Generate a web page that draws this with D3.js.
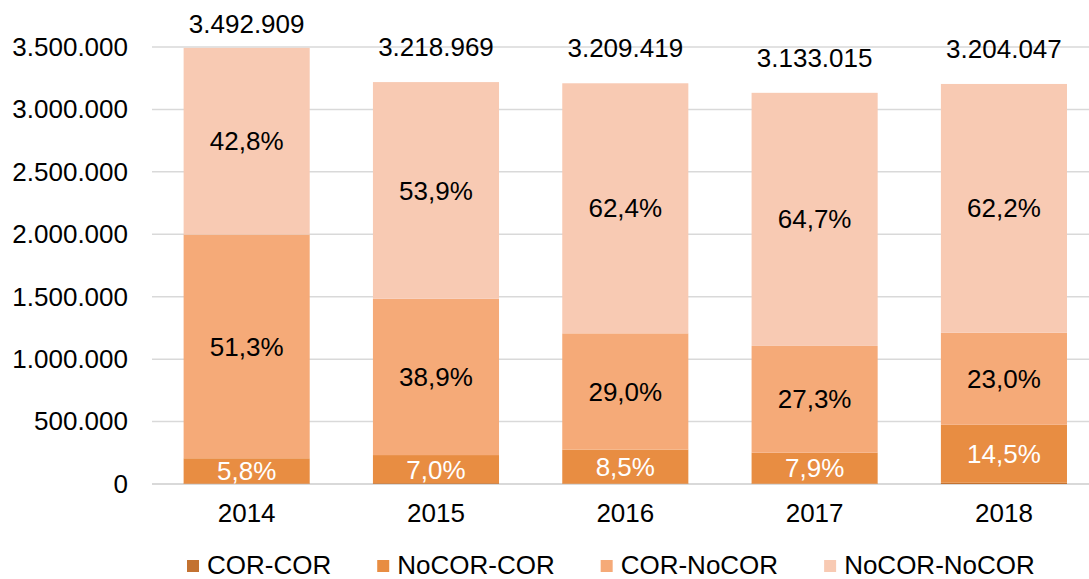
<!DOCTYPE html>
<html>
<head>
<meta charset="utf-8">
<script src="https://cdn.jsdelivr.net/npm/d3@7"></script>
<style>
  body { margin: 0; background: #fff; }
  svg text { font-family: "Liberation Sans", Arial, sans-serif; }
</style>
</head>
<body>
<script>
// data
const years = ["2014", "2015", "2016", "2017", "2018"];
const totals = [3492909, 3218969, 3209419, 3133015, 3204047];
const series = ["COR-COR", "NoCOR-COR", "COR-NoCOR", "NoCOR-NoCOR"];
const pctCorCor = [0.1, 0.2, 0.1, 0.1, 0.3];
const pctNoCorCor = [5.8, 7.0, 8.5, 7.9, 14.5];
const pctCorNoCor = [51.3, 38.9, 29.0, 27.3, 23.0];
const pctNoCorNoCor = [42.8, 53.9, 62.4, 64.7, 62.2];
const yTicks = [0, 500000, 1000000, 1500000, 2000000, 2500000, 3000000, 3500000];
const colors = ["#c37231", "#e88d42", "#f5aa78", "#f8cab3"];

const pcts = [pctCorCor, pctNoCorCor, pctCorNoCor, pctNoCorNoCor];
const rows = years.map((yr, i) => {
  const r = { year: yr, total: totals[i] };
  series.forEach((s, k) => { r[s] = totals[i] * pcts[k][i] / 100; r["p_" + s] = pcts[k][i]; });
  return r;
});

const W = 1089, H = 579;
const plotLeft = 152, plotRight = 1098.6, plotTop = 47, plotBottom = 484;
const fs = 26;

const loc = d3.formatLocale({ decimal: ",", thousands: ".", grouping: [3], currency: ["", "€"] });
const fmtNum = loc.format(",.0f");
const fmtPct = loc.format(".1f");

const svg = d3.select("body").append("svg")
  .attr("width", W).attr("height", H);

const x = d3.scaleBand().domain(years).range([plotLeft, plotRight]).paddingInner(0.334).paddingOuter(0.167);
const y = d3.scaleLinear().domain([0, 3500000]).range([plotBottom, plotTop]);

// gridlines
svg.append("g").selectAll("line")
  .data(yTicks)
  .enter().append("line")
  .attr("x1", plotLeft).attr("x2", W)
  .attr("y1", d => y(d)).attr("y2", d => y(d))
  .attr("stroke", "#d9d9d9")
  .attr("stroke-width", d => d === 0 ? 2 : 1.5);

// y axis labels
const yAxis = svg.append("g")
  .attr("transform", "translate(128,0)")
  .call(d3.axisLeft(y).tickValues(yTicks).tickFormat(fmtNum).tickSize(0).tickPadding(0));
yAxis.select(".domain").remove();
yAxis.selectAll("text")
  .attr("font-size", fs).attr("fill", "#000")
  .style("font-family", "'Liberation Sans', Arial, sans-serif");

// stacked bars
const stacked = d3.stack().keys(series)(rows);
const layers = svg.append("g").selectAll("g")
  .data(stacked)
  .enter().append("g")
  .attr("fill", (d, i) => colors[i]);

layers.selectAll("rect")
  .data(d => d)
  .enter().append("rect")
  .attr("x", d => x(d.data.year))
  .attr("width", x.bandwidth())
  .attr("y", d => y(d[1]))
  .attr("height", d => y(d[0]) - y(d[1]));

// percent labels (skip tiny COR-COR)
stacked.forEach((layer, k) => {
  if (k === 0) return;
  svg.append("g").selectAll("text")
    .data(layer)
    .enter().append("text")
    .attr("x", d => x(d.data.year) + x.bandwidth() / 2)
    .attr("y", d => k === 1 ? (y(0) + y(d[1])) / 2 : (y(d[0]) + y(d[1])) / 2)
    .attr("dy", "0.35em")
    .attr("text-anchor", "middle")
    .attr("font-size", fs)
    .attr("fill", k === 1 ? "#fff" : "#000")
    .text(d => fmtPct(d.data["p_" + series[k]]) + "%");
});

// totals
svg.append("g").selectAll("text")
  .data(rows)
  .enter().append("text")
  .attr("x", d => x(d.year) + x.bandwidth() / 2)
  .attr("y", d => Math.max(33, y(d.total) - 26))
  .attr("text-anchor", "middle")
  .attr("font-size", fs)
  .attr("fill", "#000")
  .text(d => fmtNum(d.total));

// x axis labels
const xAxis = svg.append("g")
  .attr("transform", "translate(0," + plotBottom + ")")
  .call(d3.axisBottom(x).tickSize(0).tickPadding(20));
xAxis.select(".domain").remove();
xAxis.selectAll("text")
  .attr("font-size", fs).attr("fill", "#000")
  .style("font-family", "'Liberation Sans', Arial, sans-serif");

// legend
const legend = svg.append("g").attr("transform", "translate(187,565)");
let lx = 0;
series.forEach((s, i) => {
  const g = legend.append("g").attr("transform", "translate(" + lx + ",0)");
  g.append("rect").attr("x", 0).attr("y", -5).attr("width", 12).attr("height", 12).attr("fill", colors[i]);
  const t = g.append("text").attr("x", 20).attr("dy", "0.35em")
    .attr("font-size", fs).attr("fill", "#000").text(s);
  lx += 20 + t.node().getComputedTextLength() + 46;
});
</script>
</body>
</html>
